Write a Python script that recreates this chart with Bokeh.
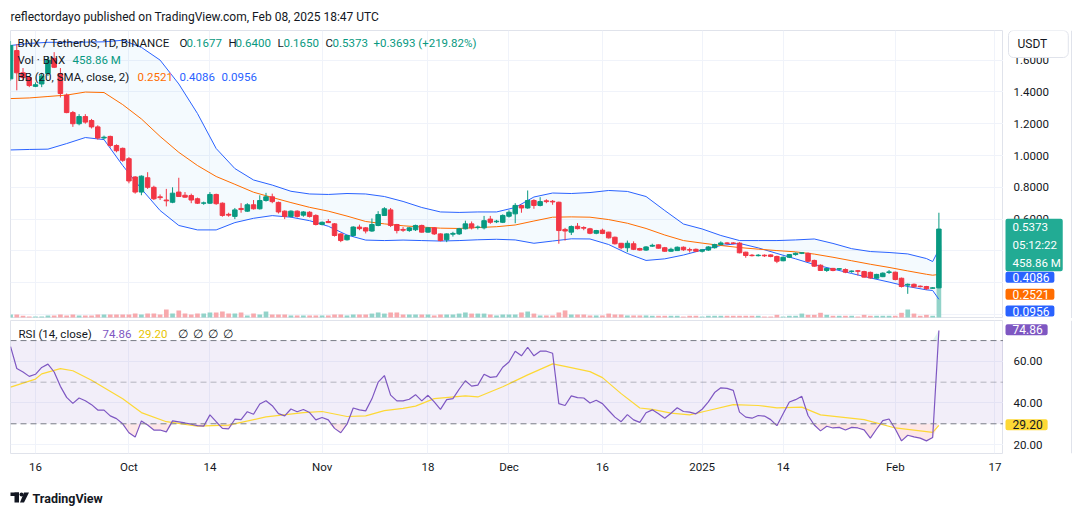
import numpy as np
import pandas as pd
from bokeh.plotting import figure
from bokeh.layouts import column, row
from bokeh.models import (Range1d, FixedTicker, Label, Span, BoxAnnotation, Grid,
                          CustomJSTickFormatter)
from bokeh.core.properties import value
from bokeh.embed import file_html
from bokeh.resources import INLINE

# ---------------- data: BNX/USDT daily, Binance ----------------
dates = pd.date_range("2024-09-12", "2025-02-08", freq="D")

opens = [
    1.482, 1.66, 1.52, 1.49, 1.435, 1.45, 1.515, 1.61, 1.515, 1.38,
    1.27, 1.20, 1.245, 1.22, 1.18, 1.11, 1.12, 1.063, 1.045, 0.98,
    0.865, 0.77, 0.86, 0.80, 0.74, 0.72, 0.706, 0.77, 0.75, 0.748,
    0.728, 0.70, 0.70, 0.755, 0.70, 0.63, 0.617, 0.667, 0.65, 0.69,
    0.665, 0.717, 0.74, 0.705, 0.65, 0.617, 0.65, 0.625, 0.643, 0.623,
    0.566, 0.585, 0.57, 0.507, 0.47, 0.497, 0.55, 0.545, 0.525, 0.56,
    0.623, 0.658, 0.566, 0.535, 0.528, 0.533, 0.56, 0.518, 0.545, 0.507,
    0.47, 0.505, 0.507, 0.539, 0.57, 0.548, 0.545, 0.60, 0.583, 0.58,
    0.618, 0.633, 0.686, 0.67, 0.717, 0.686, 0.715, 0.712, 0.706, 0.535,
    0.518, 0.555, 0.547, 0.539, 0.511, 0.53, 0.518, 0.486, 0.448, 0.42,
    0.445, 0.415, 0.405, 0.43, 0.438, 0.42, 0.398, 0.402, 0.423, 0.408,
    0.41, 0.398, 0.405, 0.42, 0.44, 0.45, 0.45, 0.449, 0.392, 0.373,
    0.37, 0.373, 0.375, 0.365, 0.338, 0.36, 0.377, 0.385, 0.385, 0.34,
    0.31, 0.277, 0.29, 0.285, 0.283, 0.271, 0.275, 0.27, 0.265, 0.228,
    0.238, 0.264, 0.266, 0.228, 0.185, 0.19, 0.178, 0.176, 0.165, 0.1677,
]
highs = [
    1.72, 1.70, 1.55, 1.50, 1.46, 1.52, 1.62, 1.65, 1.55, 1.39,
    1.28, 1.26, 1.26, 1.23, 1.19, 1.125, 1.125, 1.07, 1.05, 0.99,
    0.87, 0.875, 0.895, 0.81, 0.755, 0.79, 0.80, 0.86, 0.77, 0.76,
    0.735, 0.71, 0.77, 0.76, 0.705, 0.64, 0.67, 0.70, 0.70, 0.72,
    0.75, 0.765, 0.76, 0.71, 0.655, 0.655, 0.655, 0.65, 0.65, 0.63,
    0.585, 0.60, 0.575, 0.51, 0.50, 0.555, 0.565, 0.55, 0.604, 0.65,
    0.675, 0.67, 0.57, 0.55, 0.55, 0.565, 0.565, 0.55, 0.55, 0.51,
    0.51, 0.52, 0.545, 0.59, 0.585, 0.56, 0.62, 0.62, 0.595, 0.63,
    0.655, 0.70, 0.69, 0.78, 0.725, 0.738, 0.725, 0.72, 0.71, 0.545,
    0.56, 0.575, 0.555, 0.545, 0.532, 0.54, 0.52, 0.49, 0.45, 0.465,
    0.46, 0.42, 0.43, 0.445, 0.44, 0.425, 0.42, 0.428, 0.428, 0.42,
    0.415, 0.41, 0.43, 0.445, 0.46, 0.455, 0.455, 0.455, 0.395, 0.38,
    0.38, 0.378, 0.378, 0.37, 0.365, 0.38, 0.39, 0.39, 0.39, 0.345,
    0.315, 0.292, 0.293, 0.292, 0.29, 0.277, 0.28, 0.275, 0.27, 0.256,
    0.265, 0.28, 0.27, 0.232, 0.195, 0.195, 0.183, 0.18, 0.172, 0.64,
]
lows = [
    1.47, 1.41, 1.47, 1.43, 1.43, 1.43, 1.50, 1.55, 1.365, 1.266,
    1.18, 1.19, 1.20, 1.17, 1.10, 1.10, 1.05, 1.02, 0.96, 0.825,
    0.76, 0.75, 0.79, 0.72, 0.72, 0.68, 0.70, 0.74, 0.735, 0.70,
    0.695, 0.69, 0.695, 0.69, 0.615, 0.615, 0.60, 0.64, 0.645, 0.66,
    0.66, 0.71, 0.70, 0.635, 0.60, 0.61, 0.61, 0.615, 0.61, 0.56,
    0.56, 0.575, 0.49, 0.455, 0.465, 0.49, 0.53, 0.51, 0.52, 0.555,
    0.62, 0.55, 0.51, 0.52, 0.52, 0.525, 0.515, 0.515, 0.50, 0.46,
    0.455, 0.49, 0.50, 0.535, 0.535, 0.535, 0.535, 0.57, 0.575, 0.575,
    0.61, 0.574, 0.64, 0.665, 0.665, 0.68, 0.70, 0.69, 0.445, 0.465,
    0.50, 0.535, 0.53, 0.505, 0.505, 0.505, 0.478, 0.44, 0.41, 0.392,
    0.405, 0.40, 0.40, 0.425, 0.415, 0.395, 0.395, 0.40, 0.40, 0.39,
    0.395, 0.39, 0.40, 0.415, 0.435, 0.44, 0.442, 0.385, 0.357, 0.365,
    0.365, 0.362, 0.36, 0.323, 0.335, 0.355, 0.37, 0.38, 0.33, 0.30,
    0.275, 0.268, 0.272, 0.278, 0.26, 0.262, 0.245, 0.232, 0.225, 0.225,
    0.235, 0.255, 0.215, 0.17, 0.13, 0.17, 0.17, 0.155, 0.162, 0.165,
]
closes = [
    1.692, 1.52, 1.49, 1.44, 1.445, 1.50, 1.60, 1.555, 1.39, 1.27,
    1.20, 1.245, 1.21, 1.18, 1.11, 1.115, 1.063, 1.03, 0.97, 0.84,
    0.77, 0.87, 0.80, 0.728, 0.735, 0.715, 0.763, 0.742, 0.738, 0.72,
    0.70, 0.702, 0.755, 0.697, 0.623, 0.625, 0.658, 0.66, 0.69, 0.665,
    0.717, 0.74, 0.71, 0.645, 0.617, 0.65, 0.617, 0.645, 0.617, 0.566,
    0.58, 0.578, 0.497, 0.465, 0.497, 0.55, 0.54, 0.525, 0.566, 0.629,
    0.665, 0.56, 0.528, 0.53, 0.545, 0.56, 0.518, 0.545, 0.507, 0.465,
    0.507, 0.51, 0.539, 0.57, 0.545, 0.55, 0.59, 0.58, 0.587, 0.623,
    0.643, 0.686, 0.67, 0.717, 0.686, 0.71, 0.71, 0.708, 0.528, 0.525,
    0.553, 0.54, 0.543, 0.511, 0.528, 0.51, 0.482, 0.445, 0.42, 0.448,
    0.41, 0.405, 0.425, 0.435, 0.417, 0.398, 0.41, 0.423, 0.407, 0.405,
    0.398, 0.407, 0.425, 0.44, 0.45, 0.447, 0.447, 0.388, 0.371, 0.37,
    0.373, 0.369, 0.365, 0.335, 0.36, 0.377, 0.385, 0.388, 0.335, 0.304,
    0.277, 0.29, 0.277, 0.288, 0.266, 0.273, 0.272, 0.235, 0.23, 0.252,
    0.26, 0.268, 0.22, 0.176, 0.19, 0.174, 0.175, 0.162, 0.1677, 0.5373,
]
# volume in millions of BNX
volumes = [
    19, 19, 11, 6, 6, 6, 13, 13, 19, 13,
    19, 13, 13, 13, 19, 19, 19, 19, 19, 19,
    25, 19, 25, 25, 19, 51, 25, 45, 25, 19,
    25, 25, 32, 32, 38, 25, 25, 32, 13, 25,
    19, 38, 19, 19, 19, 13, 13, 13, 13, 13,
    13, 13, 19, 19, 13, 19, 19, 19, 25, 32,
    25, 32, 32, 19, 19, 19, 19, 19, 13, 19,
    19, 19, 25, 32, 25, 25, 25, 19, 13, 19,
    19, 19, 32, 38, 25, 13, 13, 13, 32, 45,
    19, 19, 19, 13, 13, 13, 25, 19, 19, 13,
    13, 13, 13, 11, 11, 11, 11, 11, 6, 11,
    11, 6, 11, 11, 11, 11, 11, 11, 11, 11,
    11, 6, 6, 17, 6, 11, 11, 25, 17, 17,
    30, 17, 11, 11, 11, 11, 6, 17, 11, 11,
    11, 11, 11, 30, 51, 25, 11, 17, 11, 458.86,
]
# RSI (14, close)
rsi = [
    67.1, 56.6, 54.9, 52.8, 53.8, 57.1, 58.7, 54.9, 48.0, 42.7,
    39.8, 42.4, 41.1, 39.2, 36.6, 36.6, 33.8, 32.5, 30.0, 25.7,
    23.6, 31.4, 29.4, 27.0, 27.0, 26.1, 31.4, 30.9, 30.4, 29.8,
    29.1, 28.9, 34.3, 31.0, 27.8, 27.6, 32.2, 32.0, 35.8, 34.6,
    39.5, 41.1, 38.7, 34.9, 33.8, 37.1, 35.8, 36.9, 35.4, 31.9,
    33.0, 31.9, 27.8, 25.7, 29.8, 37.6, 36.7, 36.2, 42.0, 50.0,
    53.2, 43.8, 41.0, 41.0, 41.8, 44.0, 41.0, 43.7, 40.5, 36.9,
    41.6, 42.1, 46.6, 50.7, 48.1, 48.6, 53.8, 52.3, 52.7, 57.2,
    59.7, 64.9, 62.7, 66.8, 62.7, 64.9, 64.9, 63.9, 39.7, 38.8,
    43.4, 42.6, 42.4, 40.0, 41.3, 39.7, 36.4, 33.2, 31.0, 34.4,
    31.9, 30.7, 35.3, 36.7, 34.8, 32.7, 35.1, 37.7, 35.9, 35.6,
    34.8, 37.0, 40.5, 45.0, 47.3, 47.0, 46.1, 35.6, 33.2, 32.7,
    34.0, 33.7, 32.0, 29.1, 34.8, 40.5, 41.6, 43.2, 34.0, 29.4,
    26.6, 28.8, 28.0, 28.3, 27.0, 28.3, 28.0, 27.1, 23.1, 27.5,
    31.5, 32.3, 27.5, 21.8, 24.5, 23.7, 23.1, 21.8, 23.4, 74.86,
]

# Bollinger Bands (20, SMA, close, 2), read at these day indices
bb_at = [0, 3, 6, 9, 12, 15, 18, 21, 24, 27, 30, 33, 36, 39, 42, 45, 48, 51,
         54, 57, 60, 63, 66, 69, 72, 75, 78, 81, 84, 87, 90, 93, 96, 99, 102,
         105, 108, 111, 114, 117, 120, 123, 126, 129, 132, 135, 138, 141, 144,
         147, 148, 149]
bb_upper = [1.692, 1.705, 1.712, 1.712, 1.713, 1.715, 1.725, 1.68, 1.60, 1.45,
            1.264, 1.044, 0.918, 0.846, 0.814, 0.775, 0.758, 0.755, 0.761, 0.758,
            0.742, 0.711, 0.673, 0.645, 0.642, 0.645, 0.645, 0.673, 0.739, 0.764,
            0.761, 0.767, 0.780, 0.774, 0.742, 0.654, 0.569, 0.538, 0.497, 0.465,
            0.465, 0.465, 0.469, 0.475, 0.447, 0.414, 0.396, 0.390, 0.381, 0.352,
            0.333, 0.4086]
bb_basis = [1.358, 1.362, 1.371, 1.380, 1.399, 1.396, 1.32, 1.23, 1.12, 1.02,
            0.937, 0.868, 0.819, 0.769, 0.736, 0.704, 0.674, 0.650, 0.619, 0.585,
            0.570, 0.558, 0.550, 0.543, 0.541, 0.547, 0.552, 0.563, 0.588, 0.612,
            0.614, 0.612, 0.597, 0.574, 0.541, 0.50, 0.465, 0.449, 0.434, 0.421,
            0.411, 0.402, 0.394, 0.380, 0.360, 0.338, 0.316, 0.296, 0.274, 0.253,
            0.247, 0.2521]
bb_lower = [1.035, 1.038, 1.04, 1.075, 1.113, 1.10, 0.937, 0.79, 0.654, 0.56,
            0.532, 0.532, 0.578, 0.605, 0.622, 0.612, 0.59, 0.555, 0.50, 0.468,
            0.465, 0.468, 0.465, 0.462, 0.465, 0.47, 0.473, 0.469, 0.448, 0.462,
            0.476, 0.475, 0.44, 0.384, 0.34, 0.35, 0.374, 0.405, 0.434, 0.447,
            0.419, 0.384, 0.35, 0.314, 0.286, 0.258, 0.230, 0.204, 0.176, 0.155,
            0.151, 0.0956]

# RSI-based moving average (SMA 14), read at these day indices
ma_at = [0, 4, 5, 8, 10, 13, 18, 21, 25, 30, 35, 41, 47, 50, 54, 57, 60, 63,
         65, 68, 73, 75, 79, 83, 87, 89, 93, 95, 98, 101, 103, 106, 109, 112,
         116, 120, 123, 127, 130, 137, 142, 148, 149]
rsi_ma = [47.6, 51.5, 54.0, 56.5, 55.5, 50.9, 42.0, 35.4, 31.0, 28.9,
          29.4, 33.3, 35.4, 35.9, 33.5, 33.8, 36.3, 37.4, 38.5, 42.1,
          43.4, 42.9, 47.8, 53.5, 58.8, 57.6, 55.1, 52.2, 44.5, 37.6,
          36.9, 35.1, 34.3, 36.4, 39.2, 38.8, 37.7, 38.0, 34.3, 32.0,
          28.0, 25.9, 29.2]

# scale ticks
price_grid = [0.0, 0.2, 0.4, 0.6, 0.8, 1.0, 1.2, 1.4, 1.6]
price_labels = [0.6, 0.8, 1.0, 1.2, 1.4, 1.6]      # the lower ones sit under the value tags
rsi_grid = [20, 40, 60, 80]
rsi_labels = [20, 40, 60]                          # 80 sits under the RSI value tag
tick_dates = ["2024-09-16", "2024-10-01", "2024-10-14", "2024-11-01", "2024-11-18",
              "2024-12-01", "2024-12-16", "2025-01-01", "2025-01-14", "2025-02-01",
              "2025-02-17"]
tick_labels = ["16", "Oct", "14", "Nov", "18", "Dec", "16", "2025", "14", "Feb", "17"]

# ---------------- styling ----------------
FONT = "Roboto"
INK = "#131722"
GRID = "#f0f3fa"
EDGE = "#e0e3eb"
UP, DOWN = "#089981", "#F23645"
VOL_UP, VOL_DOWN = "#92d3c9", "#f8a9ad"
BLUE, ORANGE = "#2962FF", "#FF6D00"
PURPLE, YELLOW = "#7E57C2", "#FDD835"
DAY = 86_400_000

MAIN_W, SIDE_W = 1003, 77
LEFT = 10

o = np.array(opens); h = np.array(highs); l = np.array(lows); c = np.array(closes)
up = c >= o
candle_col = [UP if u else DOWN for u in up]
vol_col = [VOL_UP if u else VOL_DOWN for u in up]
bb_x = dates[bb_at]
ma_x = dates[ma_at]
tick_ms = [int(pd.Timestamp(t).value // 10**6) for t in tick_dates]

anchor = pd.Timestamp("2024-09-16")
x_range = Range1d(anchor - pd.Timedelta(days=4.01), anchor + pd.Timedelta(days=155.37))


def tag(fig, frame_left, frame_bottom, X, Y, text, color=INK, size="11.5px", **kw):
    """Text at page position (X, Y), expressed relative to the figure's frame."""
    fig.add_layout(Label(x=X - frame_left, y=frame_bottom - Y, x_units="screen", y_units="screen",
                         text=text, text_color=color, text_font=FONT, text_font_size=size,
                         text_baseline="middle", **kw))


def badge(fig, frame_bottom, Y, text, bg, fg="white", pad=(7, 5, 1, 1), size="12px", **kw):
    """Coloured value tag on a right-hand scale strip; the box starts at x = 1005."""
    fig.add_layout(Label(x=2, y=frame_bottom - Y, x_units="screen", y_units="screen",
                         text=text, text_color=fg, text_font=FONT, text_font_size=size,
                         text_baseline="middle", background_fill_color=bg,
                         padding=dict(left=pad[0], right=pad[1], top=pad[2], bottom=pad[3]),
                         border_radius=2, **kw))


def strip(height, y_range, top, bottom):
    s = figure(width=SIDE_W, height=height, x_range=Range1d(0, SIDE_W), y_range=y_range,
               x_axis_location=None, y_axis_location=None, output_backend="svg",
               toolbar_location=None, min_border_left=0, min_border_right=0,
               min_border_top=top, min_border_bottom=bottom, outline_line_color=None,
               background_fill_color="white", border_fill_color="white")
    s.grid.visible = False
    return s


# ---------------- price pane ----------------
p = figure(width=MAIN_W, height=318, x_range=x_range, y_range=Range1d(-0.02516, 1.7862),
           x_axis_location=None, y_axis_location=None, output_backend="svg",
           toolbar_location=None, min_border_left=LEFT, min_border_right=0,
           min_border_top=30, min_border_bottom=0, outline_line_color=EDGE,
           background_fill_color="white", border_fill_color="white")
p.grid.visible = False
p.extra_y_ranges = {"vol": Range1d(-6.4, 1829)}
p.title.text = "reflectordayo published on TradingView.com, Feb 08, 2025 18:47 UTC"
p.title.text_font = FONT
p.title.text_font_size = "12px"
p.title.text_font_style = "normal"
p.title.text_color = INK
p.title.align = "left"
p.title.standoff = 14
p.add_layout(Grid(dimension=0, ticker=FixedTicker(ticks=tick_ms), grid_line_color=GRID))
p.add_layout(Grid(dimension=1, ticker=FixedTicker(ticks=price_grid), grid_line_color=GRID))

p.varea(x=bb_x, y1=bb_lower, y2=bb_upper, fill_color="#2196F3", fill_alpha=0.05)
p.vbar(x=dates, top=volumes, bottom=0, width=0.75 * DAY, y_range_name="vol",
       fill_color=vol_col, line_color=None)
p.line(bb_x, bb_upper, line_color=BLUE, line_width=1)
p.line(bb_x, bb_lower, line_color=BLUE, line_width=1)
p.line(bb_x, bb_basis, line_color=ORANGE, line_width=1)
p.segment(x0=dates, y0=l, x1=dates, y1=h, line_color=candle_col, line_width=1)
p.vbar(x=dates, top=np.maximum(o, c), bottom=np.minimum(o, c), width=0.72 * DAY,
       fill_color=candle_col, line_color=candle_col, line_width=1)

PB = 318  # page y of the price frame bottom
for text, col, X in [("BNX / TetherUS, 1D, BINANCE", INK, 17), ("O", INK, 179), ("0.1677", UP, 186),
                     ("H", INK, 228), ("0.6400", UP, 235), ("L", INK, 277), ("0.1650", UP, 283),
                     ("C", INK, 325), ("0.5373", UP, 332), ("+0.3693 (+219.82%)", UP, 373)]:
    tag(p, LEFT, PB, X, 42, text, col)
tag(p, LEFT, PB, 17, 59, "Vol · BNX", INK)
tag(p, LEFT, PB, 72, 59, "458.86 M", UP)
for text, col, X in [("BB (20, SMA, close, 2)", INK, 17), ("0.2521", ORANGE, 137),
                     ("0.4086", BLUE, 179), ("0.0956", BLUE, 221)]:
    tag(p, LEFT, PB, X, 76, text, col)

# price scale strip
ps = strip(318, p.y_range, 30, 0)
ps.text(x=10, y=price_labels, text=[f"{v:.4f}" for v in price_labels], text_font=value(FONT),
        text_font_size="11.5px", text_color=INK, text_baseline="middle")
ps.add_layout(Span(location=68, dimension="height", line_color=EDGE, line_width=1))
ps.add_layout(Label(x=5, y=PB - 43.5, x_units="screen", y_units="screen", text="USDT",
                    text_color=INK, text_font=FONT, text_font_size="12px", text_baseline="middle",
                    background_fill_color="white", border_line_color=EDGE, border_radius=5,
                    padding=dict(left=9, right=21, top=6, bottom=7)))
badge(ps, PB, 244.5, "0.5373\n05:12:22\n458.86 M", "#22ab94", pad=(7, 2, 1, 1),
      text_line_height=1.3, size="11.5px")
badge(ps, PB, 276.7, "0.4086", BLUE)
badge(ps, PB, 293.8, "0.2521", ORANGE)
badge(ps, PB, 310.5, "0.0956", BLUE)

# ---------------- RSI pane ----------------
r = figure(width=MAIN_W, height=160, x_range=x_range, y_range=Range1d(15.72, 79.66),
           x_axis_type="datetime", y_axis_location=None, output_backend="svg",
           toolbar_location=None, min_border_left=LEFT, min_border_right=0,
           min_border_top=2, min_border_bottom=25, outline_line_color=EDGE,
           background_fill_color="white", border_fill_color="white")
r.grid.visible = False
r.xaxis.ticker = FixedTicker(ticks=tick_ms)
r.xaxis.formatter = CustomJSTickFormatter(
    args=dict(tk=tick_ms, lb=tick_labels),
    code="const i = tk.indexOf(tick); return i < 0 ? '' : lb[i];")
r.xaxis.major_label_text_font = FONT
r.xaxis.major_label_text_font_size = "11.5px"
r.xaxis.major_label_text_color = INK
r.xaxis.axis_line_color = None
r.xaxis.major_tick_line_color = None
r.xaxis.minor_tick_line_color = None
r.xaxis.major_label_standoff = 0
r.add_layout(Grid(dimension=0, ticker=FixedTicker(ticks=tick_ms), grid_line_color=GRID))
r.add_layout(Grid(dimension=1, ticker=FixedTicker(ticks=rsi_grid), grid_line_color=GRID))

r.add_layout(BoxAnnotation(bottom=30, top=70, fill_color=PURPLE, fill_alpha=0.1, line_color=None,
                           level="underlay"))
for lvl, a in [(70, 1.0), (50, 0.5), (30, 1.0)]:
    r.add_layout(Span(location=lvl, dimension="width", line_color="#787B86", line_alpha=a,
                      line_dash="6 4", line_width=1))
rsi_arr = np.array(rsi)
r.varea(x=dates, y1=np.minimum(rsi_arr, 30), y2=30, fill_color=DOWN, fill_alpha=0.12)
r.varea(x=dates, y1=70, y2=np.maximum(rsi_arr, 70), fill_color=UP, fill_alpha=0.12)
r.line(ma_x, rsi_ma, line_color=YELLOW, line_width=1.2)
r.line(dates, rsi, line_color=PURPLE, line_width=1.2)

RB = 453  # page y of the RSI frame bottom
for text, col, X in [("RSI (14, close)", INK, 18), ("74.86", PURPLE, 102), ("29.20", "#e8c400", 138),
                     ("∅", INK, 177), ("∅", INK, 192), ("∅", INK, 207), ("∅", INK, 222)]:
    tag(r, LEFT, RB, X, 333, text, col)

# RSI scale strip
rs = strip(160, r.y_range, 2, 25)
rs.text(x=10, y=rsi_labels, text=[f"{v:.2f}" for v in rsi_labels], text_font=value(FONT),
        text_font_size="11.5px", text_color=INK, text_baseline="middle")
rs.add_layout(Span(location=68, dimension="height", line_color=EDGE, line_width=1))
badge(rs, RB, 329.2, "74.86", PURPLE)
badge(rs, RB, 424.2, "29.20", YELLOW, fg=INK)

# ---------------- footer ----------------
f = figure(width=MAIN_W + SIDE_W, height=37, x_range=Range1d(0, MAIN_W + SIDE_W),
           y_range=Range1d(37, 0), x_axis_location=None, y_axis_location=None,
           output_backend="svg", toolbar_location=None, min_border=0, outline_line_color=None)
f.grid.visible = False
f.quad(left=[10], right=[18.5], top=[14], bottom=[17.5], fill_color=INK, line_color=None)
f.quad(left=[14], right=[18.5], top=[14], bottom=[24], fill_color=INK, line_color=None)
f.scatter(x=[21], y=[16], size=4, fill_color=INK, line_color=None)
f.patch(x=[23.5, 28.5, 23.5, 19.5], y=[14, 14, 24, 24], fill_color=INK, line_color=None)
f.text(x=[32], y=[19.5], text=["TradingView"], text_font=value(FONT), text_font_size="12.5px",
       text_font_style="bold", text_baseline="middle", text_color=INK)

layout = column(row(p, ps, spacing=0), row(r, rs, spacing=0), f, spacing=0)
open("out.html", "w").write(file_html(layout, INLINE))
